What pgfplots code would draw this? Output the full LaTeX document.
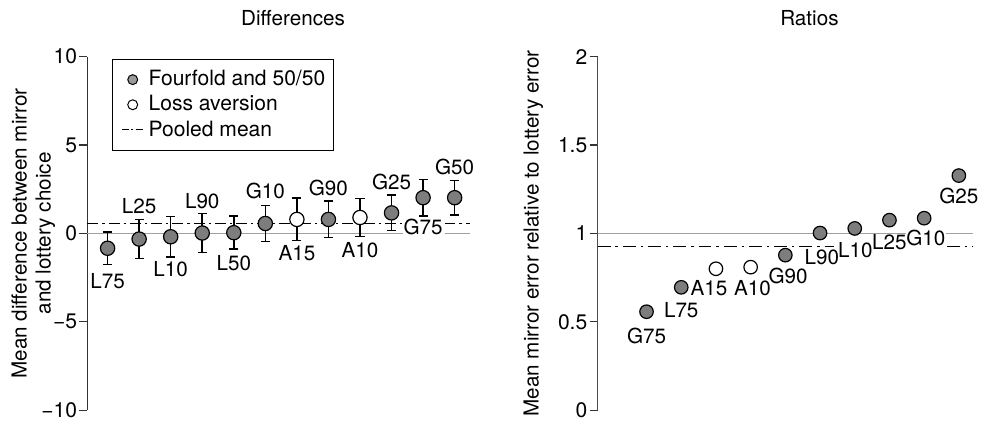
\documentclass[border=0pt]{standalone}
\usepackage{fontspec}
\setmainfont{TeX Gyre Heros}
\usepackage{pgfplots}
\pgfplotsset{compat=1.18}
\definecolor{mk}{HTML}{7D7D7D}
\definecolor{lg}{HTML}{9A9A9A}
\definecolor{zl}{HTML}{A0A0A0}
\definecolor{ax}{HTML}{333333}
\begin{document}
\begin{tikzpicture}[font=\fontsize{10.4}{12}\selectfont]
\path (-44pt,-6.5pt) rectangle (448.5pt,206.5pt);
\pgfplotsset{
  base/.style={
    scale only axis, height=178pt, clip=false,
    axis x line=none, axis y line*=left,
    xtick=\empty,
    tick align=outside, major tick length=4pt,
    y axis line style={line width=0.6pt, color=ax},
    ytick style={line width=0.6pt, color=ax},
    yticklabel style={font=\fontsize{10.6}{12}\selectfont, inner sep=1pt},
  },
  pt/.style={only marks, mark=*, mark size=3.6pt,
    mark options={draw=black, line width=0.6pt, fill=mk}},
  opt/.style={only marks, mark=*, mark size=3.6pt,
    mark options={draw=black, line width=0.6pt, fill=white}},
  eb/.style={error bars/.cd, y dir=both, y explicit,
    error bar style={line width=0.8pt, black},
    error mark options={rotate=90, mark size=2.3pt, line width=0.8pt, black},
    /pgfplots/.cd},
  zline/.style={no marks, color=zl, line width=0.9pt},
  dd/.style={no marks, black, line width=0.7pt, dash pattern=on 5.5pt off 2pt on 1.2pt off 2pt},
}
% ---------------- Left: Differences
\begin{axis}[base, at={(0,0)}, anchor=south west,
  width=192.5pt, xmin=0.36, xmax=12.48, ymin=-10, ymax=10,
  ytick={-10,-5,0,5,10}, yticklabels={−10,−5,0,5,10},
  legend style={at={(rel axis cs:0.065,0.994)}, anchor=north west,
    draw=black, line width=0.6pt, font=\fontsize{10.6}{12}\selectfont,
    inner xsep=2pt, inner ysep=3.6pt, row sep=-0.6pt},
  legend cell align=left,
]
\addplot[zline, forget plot] coordinates {(0.36,0) (10.36,0)};
\addplot[zline, forget plot] coordinates {(11.68,0) (12.48,0)};
\addplot[dd, forget plot] coordinates {(0.36,0.56) (10.36,0.56)};
\addplot[dd, forget plot] coordinates {(11.68,0.56) (12.48,0.56)};
\addplot[forget plot, pt, eb] table[x=x, y=y, y error=e] {
x y e
1 -0.84 0.92
2 -0.32 1.10
3 -0.19 1.15
4 0.02 1.10
5 0.04 0.93
6 0.56 1.01
8 0.79 1.03
10 1.16 1.00
11 2.02 1.04
12 2.02 0.98
};
\addplot[forget plot, opt, eb] table[x=x, y=y, y error=e] {
x y e
7 0.79 1.20
9 0.90 1.08
};
\addlegendimage{legend image code/.code={\path[draw=none, fill=none] (0,0) -- (14pt,0); \draw[black, fill=lg, line width=0.5pt, solid] (8pt,0) circle (2.5pt);}}
\addlegendentry{Fourfold and 50/50}
\addlegendimage{legend image code/.code={\path[draw=none, fill=none] (0,0) -- (14pt,0); \draw[black, fill=white, line width=0.5pt, solid] (8pt,0) circle (2.5pt);}}
\addlegendentry{Loss aversion}
\addlegendimage{legend image code/.code={\path[draw=none, fill=none] (0,0) -- (14pt,0); \draw[black, line width=0.6pt, dash pattern=on 3.5pt off 1.3pt on 0.9pt off 1.3pt] (2.5pt,0) -- (13.5pt,0);}}
\addlegendentry{Pooled mean}
\node at (axis cs:1,-2.70) {L75};
\node at (axis cs:2,1.52) {L25};
\node at (axis cs:3,-2.02) {L10};
\node at (axis cs:4,1.85) {L90};
\node at (axis cs:5,-1.69) {L50};
\node at (axis cs:6,2.42) {G10};
\node at (axis cs:7,-1.12) {A15};
\node at (axis cs:8,2.58) {G90};
\node at (axis cs:9,-0.96) {A10};
\node at (axis cs:10,2.92) {G25};
\node at (axis cs:11,0.39) {G75};
\node at (axis cs:12,3.76) {G50};
\end{axis}
% ---------------- Right: Ratios
\begin{axis}[base, at={(256.85pt,0)}, anchor=south west,
  width=189.2pt, xmin=-0.41, xmax=10.42, ymin=0, ymax=2,
  ytick={0,0.5,1,1.5,2}, yticklabels={0,0.5,1,1.5,2},
  y axis line style={line width=0.6pt, color=black!70},
]
\addplot[zline] coordinates {(-0.41,1) (8.47,1)};
\addplot[zline] coordinates {(9.63,1) (10.42,1)};
\addplot[dd, dash pattern=on 6.5pt off 2.5pt on 1.2pt off 2.5pt] coordinates {(-0.41,0.925) (6.4,0.925)};
\addplot[dd, dash pattern=on 6.5pt off 2.5pt on 1.2pt off 2.5pt] coordinates {(9.66,0.925) (10.42,0.925)};
\addplot[pt, mark size=3.4pt] coordinates {(1,0.557) (2,0.695) (5,0.877) (6,1.002) (7,1.028) (8,1.075) (9,1.086) (10,1.327)};
\addplot[opt, mark size=3.4pt] coordinates {(3,0.800) (4,0.809)};
\node at (axis cs:1,0.421) {G75};
\node at (axis cs:2,0.566) {L75};
\node at (axis cs:2.8,0.688) {A15};
\node at (axis cs:4.05,0.688) {A10};
\node at (axis cs:5.08,0.757) {G90};
\node at (axis cs:6.05,0.864) {L90};
\node at (axis cs:7.02,0.906) {L10};
\node at (axis cs:8,0.953) {L25};
\node at (axis cs:9.05,0.972) {G10};
\node at (axis cs:10,1.211) {G25};
\end{axis}
% titles and axis labels (absolute positions; 1 px = 0.5 pt)
\node at (103.5pt,197.5pt) {Differences};
\node at (363.5pt,197.5pt) {Ratios};
\node[rotate=90, align=center] at (-27.25pt,89pt) {Mean difference between mirror\\and lottery choice};
\node[rotate=90] at (224.5pt,89pt) {Mean mirror error relative to lottery error};
\end{tikzpicture}
\end{document}
